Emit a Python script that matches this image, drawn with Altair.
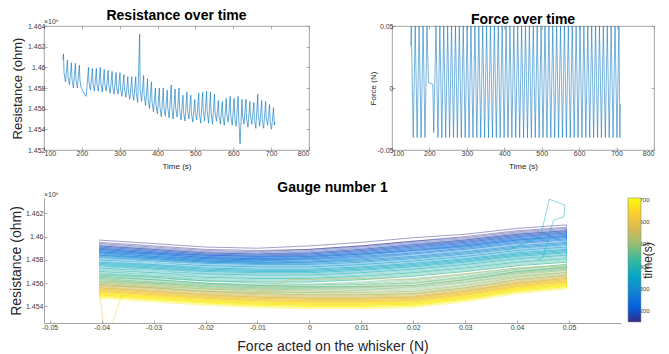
import altair as alt
import pandas as pd

# ---------------- top panels ----------------
# force peaks (one per loading cycle)
peak_t = [151.5, 162.0, 172.5, 183.0, 193.5,
          217.5, 227.9, 238.3, 248.7, 259.1, 269.5, 279.9, 290.3, 300.7, 311.1,
          321.5, 331.9, 342.3, 352.7, 363.1, 373.5, 383.9, 394.3, 404.7, 415.1,
          425.5, 435.9, 446.3, 456.7, 467.1, 477.5, 487.9, 498.3, 508.7, 519.1,
          529.5, 539.9, 550.3, 560.7, 571.1, 581.5, 591.9, 602.3, 612.7, 623.1,
          633.5, 643.9, 654.3, 664.7, 675.1, 685.5, 695.9, 706.3]
peak_R = [1.4613, 1.4607, 1.46045, 1.4604, 1.4602,
          1.4600, 1.4599, 1.4599, 1.4600, 1.4598, 1.4597, 1.4596, 1.4595, 1.4595, 1.4593,
          1.4591, 1.4591, 1.4591, 1.4632, 1.4592, 1.4589, 1.4586, 1.4580, 1.4580, 1.4580,
          1.4578, 1.4583, 1.4579, 1.4580, 1.4573, 1.4576, 1.4573, 1.4569, 1.4575, 1.4576,
          1.4577, 1.4576, 1.4574, 1.4568, 1.4567, 1.4570, 1.4572, 1.4570, 1.4572, 1.4569,
          1.4569, 1.4567, 1.4566, 1.4574, 1.4568, 1.4567, 1.4564, 1.4561]
peak_F = [0.05, 0.05, 0.05, 0.05, 0.05,
          0.05, 0.05, 0.05, 0.05, 0.05, 0.05, 0.05, 0.05, 0.05, 0.05,
          0.05, 0.05, 0.05, 0.05, 0.05, 0.05, 0.05, 0.05, 0.05, 0.05,
          0.05, 0.05, 0.05, 0.05, 0.05, 0.05, 0.05, 0.05, 0.05, 0.05,
          0.05, 0.05, 0.05, 0.05, 0.05, 0.05, 0.05, 0.05, 0.05, 0.05,
          0.05, 0.05, 0.05, 0.05, 0.05, 0.05, 0.05, 0.05]

# resistance right after each peak (end of the sharp drop)
knee_t = [152.9, 163.4, 173.9, 184.4, 194.9,
          218.9, 229.3, 239.7, 250.1, 260.5, 270.9, 281.3, 291.7, 302.1, 312.5,
          322.9, 333.3, 343.7, 354.1, 364.5, 374.9, 385.3, 395.7, 406.1, 416.5,
          426.9, 437.3, 447.7, 458.1, 468.5, 478.9, 489.3, 499.7, 510.1, 520.5,
          530.9, 541.3, 551.7, 562.1, 572.5, 582.9, 593.3, 603.7, 614.1, 624.5,
          634.9, 645.3, 655.7, 666.1, 676.5, 686.9, 697.3, 707.7]
knee_R = [1.4595, 1.4591, 1.4589, 1.4588, 1.4588,
          1.4586, 1.4585, 1.4584, 1.4585, 1.4584, 1.4583, 1.4582, 1.4581, 1.4580, 1.4579,
          1.4577, 1.4576, 1.4575, 1.4578, 1.4573, 1.4570, 1.4567, 1.4564, 1.4562, 1.4562,
          1.4561, 1.4562, 1.4561, 1.4560, 1.4557, 1.4559, 1.4556, 1.4556, 1.4556, 1.4558,
          1.4557, 1.4556, 1.4557, 1.4553, 1.4552, 1.4555, 1.4554, 1.4552, 1.4553, 1.4553,
          1.4551, 1.4553, 1.4550, 1.4554, 1.4550, 1.4552, 1.4548, 1.4550]

# force troughs
trough_t = [156.7, 167.2, 177.7, 188.2, 211.5,
            222.7, 233.1, 243.5, 253.9, 264.3, 274.7, 285.1, 295.5, 305.9, 316.3,
            326.7, 337.1, 347.5, 357.9, 368.3, 378.7, 389.1, 399.5, 409.9, 420.3,
            430.7, 441.1, 451.5, 461.9, 472.3, 482.7, 493.1, 503.5, 513.9, 524.3,
            534.7, 545.1, 555.5, 565.9, 576.3, 586.7, 597.1, 607.5, 617.9, 628.3,
            638.7, 649.1, 659.5, 669.9, 680.3, 690.7, 701.1, 708.8]
trough_R = [1.4586, 1.4583, 1.4580, 1.4580, 1.4572,
            1.4578, 1.4577, 1.4577, 1.4576, 1.4577, 1.4575, 1.4574, 1.4574, 1.4572, 1.4571,
            1.4569, 1.4568, 1.4566, 1.4567, 1.4563, 1.4560, 1.4557, 1.4555, 1.4552, 1.4553,
            1.4551, 1.4550, 1.4552, 1.4549, 1.4548, 1.4550, 1.4547, 1.4549, 1.4546, 1.4548,
            1.4546, 1.4545, 1.4548, 1.4545, 1.4544, 1.4547, 1.4544, 1.4543, 1.4526, 1.4545,
            1.4542, 1.4545, 1.4541, 1.4543, 1.4541, 1.4544, 1.4540, 1.4544]
trough_F = [-0.04, -0.04, -0.04, -0.04, -0.036,
            -0.04, -0.04, -0.04, -0.04, -0.04, -0.04, -0.04, -0.04, -0.04, -0.04,
            -0.04, -0.04, -0.04, -0.04, -0.04, -0.04, -0.04, -0.04, -0.04, -0.04,
            -0.04, -0.04, -0.04, -0.04, -0.04, -0.04, -0.04, -0.04, -0.04, -0.04,
            -0.04, -0.04, -0.04, -0.04, -0.04, -0.04, -0.04, -0.04, -0.04, -0.04,
            -0.04, -0.04, -0.04, -0.04, -0.04, -0.04, -0.04, -0.04]

# start, pause (~197-210 s) and end samples
extra_t = [150.0, 197.5, 209.0, 710.0]
extra_R = [1.4607, 1.4581, 1.4573, 1.4547]
extra_F = [0.034, 0.0045, 0.003, -0.013]

time_ticks = [100, 200, 300, 400, 500, 600, 700, 800]
r_ticks_top = [1.452, 1.454, 1.456, 1.458, 1.46, 1.462, 1.464]
f_ticks_top = [-0.05, 0, 0.05]

# ---------------- bottom panel: resistance vs force, loading + unloading per cycle ----------------
gauge_level = [1.4597, 1.4594, 1.4592, 1.4593, 1.4590,
               1.4591, 1.4589, 1.4588, 1.4589, 1.4587, 1.4586, 1.4586, 1.4584, 1.4585, 1.4583,
               1.4582, 1.4580, 1.4579, 1.4578, 1.4576, 1.4577, 1.4575, 1.4573, 1.4572, 1.4570,
               1.4569, 1.4568, 1.4567, 1.4566, 1.4564, 1.4565, 1.4563, 1.4562, 1.4561, 1.4560,
               1.4561, 1.4559, 1.4558, 1.4557, 1.4558, 1.4556, 1.4555, 1.4556, 1.4554, 1.4553,
               1.4555, 1.4552, 1.4553, 1.4551, 1.4552, 1.4550, 1.4549, 1.4551]
# curve family seen for each cycle (0 = early, 1 = middle, 2 = late)
gauge_family = [0, 0, 0, 0, 0,
                0, 0, 0, 1, 0, 1, 0, 1, 1, 1,
                1, 1, 1, 1, 1, 1, 1, 1, 1, 1,
                1, 2, 1, 2, 1, 2, 1, 2, 2, 1,
                2, 2, 2, 2, 2, 2, 2, 2, 2, 2,
                2, 2, 2, 2, 2, 2, 2, 2]
force_grid = [-0.0405, -0.03, -0.02, -0.01, 0.0, 0.01, 0.02, 0.03, 0.04, 0.0495]
load_early = [0.0, -0.0003, -0.0006, -0.0007, -0.0005, -0.0002, 0.0002, 0.0005, 0.0010, 0.0013]
load_mid = [0.0, -0.0003, -0.0005, -0.0006, -0.0006, -0.0004, -0.0001, 0.0003, 0.0008, 0.0011]
load_late = [0.0, -0.0003, -0.0006, -0.0008, -0.0009, -0.0009, -0.0008, -0.0003, 0.0004, 0.0008]
unload_early = [-0.0002, -0.0005, -0.0008, -0.0009, -0.0008, -0.0005, -0.0001, 0.0003, 0.0008, 0.0011]
unload_mid = [-0.0002, -0.0004, -0.0007, -0.0008, -0.0008, -0.0006, -0.0003, 0.0001, 0.0006, 0.0009]
unload_late = [-0.0002, -0.0005, -0.0008, -0.0010, -0.0011, -0.0011, -0.0010, -0.0005, 0.0002, 0.0006]

spike_f = [0.038, 0.0445, 0.0462, 0.0492, 0.0490, 0.0470, 0.0450, 0.0440]
spike_R = [1.4588, 1.4600, 1.4632, 1.4627, 1.4617, 1.4614, 1.4582, 1.4580]
spike_time = 352.7
drop_f = [-0.0405, -0.0398, -0.0390, -0.0385, -0.0362, -0.0340]
drop_R = [1.4554, 1.4530, 1.4515, 1.4518, 1.4549, 1.4552]
drop_time = 617.9
jump_f = [-0.0103, -0.0038, 0.0100, 0.0200, 0.0300, 0.0400, 0.0495]
jump_R = [1.4552, 1.4563, 1.4564, 1.4563, 1.4568, 1.4573, 1.4575]
jump_time = 560.0

f_ticks = [-0.05, -0.04, -0.03, -0.02, -0.01, 0, 0.01, 0.02, 0.03, 0.04, 0.05]
r_ticks_bottom = [1.454, 1.456, 1.458, 1.46, 1.462]
cbar_range = [150, 705]
cbar_ticks = [200, 300, 400, 500, 600, 700]
sci_label = ["\u00d710\u2076"]

PARULA = ["#352a87", "#0363e1", "#1485d4", "#06a7c6", "#38b99e",
          "#92bf73", "#d9ba56", "#fcce2e", "#f9fb0e"]
PARULA_POS = [0.0, 0.125, 0.25, 0.375, 0.5, 0.625, 0.75, 0.875, 1.0]

# ---------------- tables ----------------
ts_R = pd.DataFrame({
    "t": peak_t + knee_t + trough_t + extra_t,
    "R": peak_R + knee_R + trough_R + extra_R,
}).sort_values("t").reset_index(drop=True)
ts_F = pd.DataFrame({
    "t": peak_t + trough_t + extra_t,
    "F": peak_F + trough_F + extra_F,
}).sort_values("t").reset_index(drop=True)

families = [(load_early, unload_early), (load_mid, unload_mid), (load_late, unload_late)]
rows = []
for k, (tc, lev, fam) in enumerate(zip(peak_t, gauge_level, gauge_family)):
    load, unload = families[fam]
    seq = 0
    for f, off in zip(force_grid, load):
        rows.append({"cycle": f"c{k}", "time": tc, "f": f, "R": lev + off, "seq": seq})
        seq += 1
    for f, off in zip(force_grid[::-1], unload[::-1]):
        rows.append({"cycle": f"c{k}", "time": tc, "f": f, "R": lev + off, "seq": seq})
        seq += 1
for name, fs, rs, tc in [("spike", spike_f, spike_R, spike_time),
                         ("drop", drop_f, drop_R, drop_time),
                         ("jump", jump_f, jump_R, jump_time)]:
    for j, (f, r) in enumerate(zip(fs, rs)):
        rows.append({"cycle": name, "time": tc, "f": f, "R": r, "seq": j})
gdf = pd.DataFrame(rows)
sci_df = pd.DataFrame({"label": sci_label})
cbar_df = pd.DataFrame({"lo": [cbar_range[0]], "hi": [cbar_range[1]]})

FONT = "Liberation Sans"
GREY = "#404040"
FRAME = "#8c8c8c"
BLUE = "#0072BD"
LBL = "replace(format(datum.value, '~g'), '\u2212', '-')"


def ax(orient, values, title=None, labels=True, domain=False, title_size=8,
       title_pad=3, label_pad=2, label_size=7, tick="-3"):
    kw = dict(orient=orient, values=values, labels=labels, domain=domain, grid=False,
              ticks=True, tickSize={"expr": tick}, tickColor=FRAME, tickWidth=0.7,
              domainColor=FRAME, domainWidth=0.8, title=title)
    if labels:
        kw.update(labelExpr=LBL, labelFontSize=label_size, labelColor=GREY,
                  labelFont=FONT, labelPadding=label_pad)
    if title:
        kw.update(titleFontSize=title_size, titleFont=FONT, titleFontWeight="normal",
                  titleColor="#262626", titlePadding=title_pad)
    return alt.Axis(**kw)


def ttl(text, offset):
    return alt.TitleParams(text=text, fontSize=14, fontWeight="bold", font=FONT,
                           color="black", offset=offset)


# ---- top-left: resistance over time ----
tl_line = alt.Chart(ts_R).mark_line(color=BLUE, strokeWidth=0.6, clip=True).encode(
    x=alt.X("t:Q", scale=alt.Scale(domain=[100, 800], nice=False, zero=False),
            axis=ax("bottom", time_ticks, "Time (s)", title_size=8, title_pad=6)),
    y=alt.Y("R:Q", scale=alt.Scale(domain=[1.452, 1.464], nice=False, zero=False),
            axis=ax("left", r_ticks_top, "Resistance (ohm)", title_size=13,
                    label_pad=2, title_pad=3)),
)
tl_ghost = alt.Chart(ts_R).mark_line(strokeOpacity=0).encode(
    x=alt.X("t:Q", axis=ax("top", time_ticks, labels=False)),
    y=alt.Y("R:Q", axis=ax("right", r_ticks_top, labels=False)),
)
tl_sci = alt.Chart(sci_df).mark_text(align="left", baseline="alphabetic", fontSize=7,
                                     font=FONT, color=GREY).encode(
    x=alt.value(0), y=alt.value(-2), text="label:N")
tl = alt.layer(tl_line, tl_ghost, tl_sci).resolve_axis(
    x="independent", y="independent").properties(
    width=265, height=124, title=ttl("Resistance over time", -5),
    view=alt.ViewBackground(stroke=FRAME, strokeWidth=0.8))

# ---- top-right: force over time ----
tr_line = alt.Chart(ts_F).mark_line(color=BLUE, strokeWidth=0.6, opacity=0.9,
                                    clip=True).encode(
    x=alt.X("t:Q", scale=alt.Scale(domain=[100, 800], nice=False, zero=False),
            axis=ax("bottom", time_ticks, "Time (s)", title_size=8, title_pad=6)),
    y=alt.Y("F:Q", scale=alt.Scale(domain=[-0.05, 0.05], nice=False, zero=False),
            axis=ax("left", f_ticks_top, "Force (N)", title_size=8,
                    label_pad=2, title_pad=0)),
)
tr_ghost = alt.Chart(ts_F).mark_line(strokeOpacity=0).encode(
    x=alt.X("t:Q", axis=ax("top", time_ticks, labels=False)),
    y=alt.Y("F:Q", axis=ax("right", f_ticks_top, labels=False)),
)
tr = alt.layer(tr_line, tr_ghost).resolve_axis(
    x="independent", y="independent").properties(
    width=262, height=124, title=ttl("Force over time", -5),
    view=alt.ViewBackground(stroke=FRAME, strokeWidth=0.8))

# ---- bottom: gauge ----
g_line = alt.Chart(gdf).mark_line(strokeWidth=0.5, opacity=0.9, clip=True).encode(
    x=alt.X("f:Q", scale=alt.Scale(domain=[-0.0511, 0.06], nice=False, zero=False),
            axis=ax("bottom", f_ticks, "Force acted on the whisker (N)", domain=True,
                    title_size=14, label_pad=3, title_pad=9)),
    y=alt.Y("R:Q", scale=alt.Scale(domain=[1.45258, 1.46331], nice=False, zero=False),
            axis=ax("left", r_ticks_bottom, "Resistance (ohm)", domain=True,
                    title_size=14, label_pad=4, title_pad=2)),
    color=alt.Color("time:Q",
                    scale=alt.Scale(domain=cbar_range, range=PARULA, interpolate="rgb"),
                    legend=None),
    detail="cycle:N",
    order="seq:Q",
)
g_sci = alt.Chart(sci_df).mark_text(align="left", baseline="alphabetic", fontSize=7,
                                    font=FONT, color=GREY).encode(
    x=alt.value(0), y=alt.value(-1), text="label:N")
bottom = alt.layer(g_line, g_sci).properties(
    width=577, height=125, title=ttl("Gauge number 1", -4),
    view=alt.ViewBackground(stroke="transparent"))

# ---- colorbar ----
grad = alt.LinearGradient(
    gradient="linear",
    stops=[alt.GradientStop(offset=o, color=c) for o, c in zip(PARULA_POS, PARULA)],
    x1=0, x2=0, y1=1, y2=0)
cbar = alt.Chart(cbar_df).mark_rect(fill=grad, stroke=FRAME, strokeWidth=0.6).encode(
    y=alt.Y("lo:Q", scale=alt.Scale(domain=cbar_range, nice=False, zero=False),
            axis=alt.Axis(orient="right", values=cbar_ticks, domain=False, grid=False,
                          ticks=True, tickSize={"expr": "-2"}, tickColor=FRAME,
                          tickWidth=0.6, labelFontSize=6, labelFont=FONT, labelColor=GREY,
                          labelPadding=0, title="time(s)", titleAngle=270,
                          titleFontSize=12, titleFont=FONT, titleFontWeight="normal",
                          titleColor="#262626", titlePadding=5)),
    y2="hi:Q",
).properties(width=13, height=124, view=alt.ViewBackground(stroke="transparent"))

top = alt.hconcat(tl, tr, spacing=83, bounds="flush")
bottom_row = alt.hconcat(bottom, cbar, spacing=7, bounds="flush")
chart = alt.vconcat(top, bottom_row, spacing=9).properties(
    padding=0).configure(font=FONT)

chart.save("out.html", embed_options={"renderer": "svg", "actions": False})
